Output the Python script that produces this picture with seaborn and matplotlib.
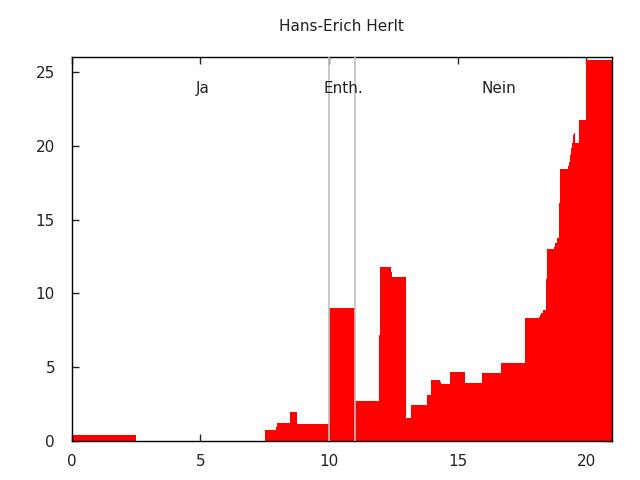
import numpy as np
import pandas as pd
import matplotlib
matplotlib.use("Agg")
import matplotlib.pyplot as plt
import seaborn as sns

# step edges (x) and the height of each step
edges = [0, 2.5, 7.5, 7.95, 8.0, 8.5, 8.75, 10, 11, 11.95, 12, 12.42, 12.46,
         13, 13.2, 13.82, 13.97, 14.32, 14.36, 14.71, 15.3, 15.96, 16.7, 17.63,
         18.18, 18.22, 18.26, 18.33, 18.45, 18.49, 18.76, 18.8, 18.88, 18.95,
         18.99, 19.3, 19.34, 19.38, 19.42, 19.46, 19.5, 19.54, 19.58, 19.74,
         20, 21]
heights = [0.4, 0, 0.75, 0.95, 1.22, 1.97, 1.16, 9.0, 2.72, 7.19, 11.8, 11.45,
           11.1, 1.58, 2.47, 3.15, 4.17, 4.03, 3.9, 4.65, 3.96, 4.58, 5.26, 8.32,
           8.4, 8.55, 8.7, 8.86, 10.95, 13.02, 13.12, 13.42, 13.76, 16.1, 18.45,
           18.6, 18.9, 19.4, 19.85, 20.2, 20.7, 20.85, 20.16, 21.72, 25.8]

vote_labels = ["Ja", "Enth.", "Nein"]
vote_label_x = [5.1, 10.55, 16.6]
vote_label_y = 23.9
divider_x = [10, 11]

df = pd.DataFrame({"x": edges[:-1], "h": heights})

sns.set_theme(style="ticks")
plt.rcParams['font.family'] = ['DejaVu Sans']

fig, ax = plt.subplots(figsize=(6.4, 4.8), dpi=100)
fig.subplots_adjust(left=0.112, right=0.956, top=0.881, bottom=0.081)

sns.histplot(data=df, x="x", weights="h", bins=edges, element="step",
             fill=True, color="#ff0000", alpha=1, linewidth=0, ax=ax)

for xv in divider_x:
    ax.axvline(xv, color="#c0c0c0", linewidth=1.2, zorder=3)

for lab, xv in zip(vote_labels, vote_label_x):
    ax.text(xv, vote_label_y, lab, ha="center", va="center", fontsize=11,
            color="#222222")

ax.set_xlim(0, 21)
ax.set_ylim(0, 26)
ax.set_xticks(range(0, 21, 5))
ax.set_yticks(range(0, 26, 5))
ax.set_xlabel("")
ax.set_ylabel("")
ax.set_title("Hans-Erich Herlt", fontsize=11, pad=18.5, color="#222222")
ax.tick_params(direction="in", top=True, right=True, length=5, width=1,
               labelsize=11, labelcolor="#222222")
ax.tick_params(axis="x", pad=9)
ax.tick_params(axis="y", pad=12)
for s in ax.spines.values():
    s.set_visible(True)
    s.set_linewidth(1)
    s.set_color("black")

fig.savefig("out.png", dpi=100)
